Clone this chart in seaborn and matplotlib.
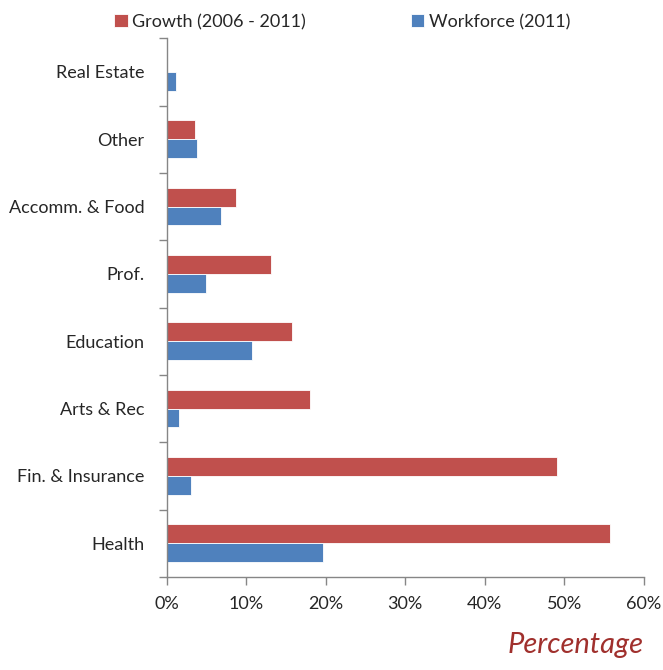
import seaborn as sns
import pandas as pd
import numpy as np
import matplotlib.pyplot as plt
from matplotlib.ticker import FixedLocator, PercentFormatter

categories = ["Real Estate", "Other", "Accomm. & Food", "Prof.", "Education",
              "Arts & Rec", "Fin. & Insurance", "Health"]
growth = [0.0, 3.6, 8.7, 13.1, 15.7, 18.0, 49.1, 55.8]
workforce = [1.2, 3.8, 6.8, 5.0, 10.7, 1.5, 3.0, 19.7]
series = ["Growth (2006 - 2011)", "Workforce (2011)"]
colors = ["#C0504D", "#4F81BD"]

df = pd.DataFrame({
    "sector": categories * 2,
    "value": growth + workforce,
    "series": [series[0]] * len(categories) + [series[1]] * len(categories),
})

sns.set_style("white")
plt.rcParams["font.family"] = ["Lato", "DejaVu Sans"]

fig = plt.figure(figsize=(6.63, 6.70), dpi=100)
ax = fig.add_axes([0.2514, 0.139, 0.7196, 0.804])

sns.barplot(data=df, y="sector", x="value", hue="series", order=categories,
            hue_order=series, palette=colors, saturation=1, width=0.56,
            orient="h", edgecolor="white", linewidth=0.6, ax=ax)

ax.set_xlim(0, 60)
ax.set_ylim(len(categories) - 0.5, -0.5)
ax.xaxis.set_major_locator(FixedLocator(np.arange(0, 61, 10)))
ax.xaxis.set_major_formatter(PercentFormatter(decimals=0))
ax.yaxis.set_minor_locator(FixedLocator(np.arange(-0.5, len(categories), 1)))

ax.tick_params(axis="x", which="major", bottom=True, length=6, width=1,
               color="#868686", direction="out", labelsize=13, pad=8)
ax.tick_params(axis="y", which="major", left=False, length=0, labelsize=13,
               pad=16)
ax.tick_params(axis="y", which="minor", left=True, length=6, width=1,
               color="#868686", direction="out")

for side in ["top", "right"]:
    ax.spines[side].set_visible(False)
for side in ["left", "bottom"]:
    ax.spines[side].set_color("#868686")
    ax.spines[side].set_linewidth(1)

ax.set_ylabel("")
ax.set_xlabel("")
fig.text(0.97, 0.018, "Percentage", ha="right", va="bottom", fontsize=21,
         style="italic", color="#A0302D")

handles, labels = ax.get_legend_handles_labels()
ax.legend(handles, labels, loc="center", bbox_to_anchor=(0.516, 0.967),
          bbox_transform=fig.transFigure, ncol=2, frameon=False, fontsize=13,
          handlelength=0.75, handleheight=0.75, handletextpad=0.25,
          columnspacing=5.8)

fig.savefig("out.png", dpi=100)
